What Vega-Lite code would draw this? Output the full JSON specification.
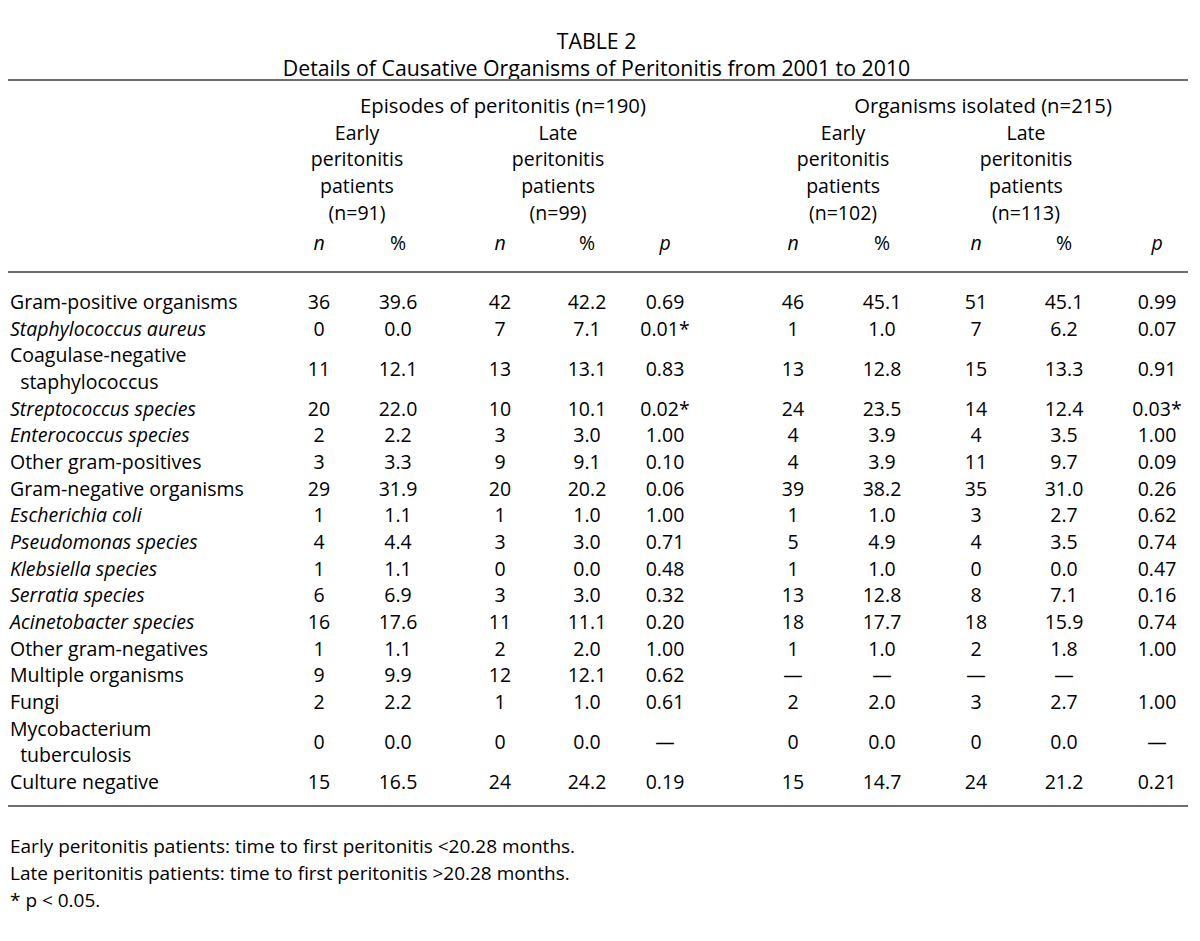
{
  "$schema": "https://vega.github.io/schema/vega-lite/v6.json",
  "width": 1200,
  "height": 941,
  "autosize": {"type": "none"},
  "padding": 0,
  "background": "white",
  "config": {"view": {"stroke": null}, "text": {"font": "Open Sans", "fontSize": 19.5, "color": "#000000"}},
  "datasets": {
    "rows": [
      {"id": "gp", "label": "Gram-positive organisms", "taxon": false, "en": "36", "ep": "39.6", "ln": "42", "lp": "42.2", "p": "0.69", "oen": "46", "oep": "45.1", "oln": "51", "olp": "45.1", "op": "0.99"},
      {"id": "sa", "label": "Staphylococcus aureus", "taxon": true, "en": "0", "ep": "0.0", "ln": "7", "lp": "7.1", "p": "0.01*", "oen": "1", "oep": "1.0", "oln": "7", "olp": "6.2", "op": "0.07"},
      {"id": "cns", "label": "Coagulase-negative\n\u200d\u00a0\u00a0staphylococcus", "taxon": false, "en": "11", "ep": "12.1", "ln": "13", "lp": "13.1", "p": "0.83", "oen": "13", "oep": "12.8", "oln": "15", "olp": "13.3", "op": "0.91"},
      {"id": "strep", "label": "Streptococcus species", "taxon": true, "en": "20", "ep": "22.0", "ln": "10", "lp": "10.1", "p": "0.02*", "oen": "24", "oep": "23.5", "oln": "14", "olp": "12.4", "op": "0.03*"},
      {"id": "ent", "label": "Enterococcus species", "taxon": true, "en": "2", "ep": "2.2", "ln": "3", "lp": "3.0", "p": "1.00", "oen": "4", "oep": "3.9", "oln": "4", "olp": "3.5", "op": "1.00"},
      {"id": "ogp", "label": "Other gram-positives", "taxon": false, "en": "3", "ep": "3.3", "ln": "9", "lp": "9.1", "p": "0.10", "oen": "4", "oep": "3.9", "oln": "11", "olp": "9.7", "op": "0.09"},
      {"id": "gn", "label": "Gram-negative organisms", "taxon": false, "en": "29", "ep": "31.9", "ln": "20", "lp": "20.2", "p": "0.06", "oen": "39", "oep": "38.2", "oln": "35", "olp": "31.0", "op": "0.26"},
      {"id": "ec", "label": "Escherichia coli", "taxon": true, "en": "1", "ep": "1.1", "ln": "1", "lp": "1.0", "p": "1.00", "oen": "1", "oep": "1.0", "oln": "3", "olp": "2.7", "op": "0.62"},
      {"id": "pse", "label": "Pseudomonas species", "taxon": true, "en": "4", "ep": "4.4", "ln": "3", "lp": "3.0", "p": "0.71", "oen": "5", "oep": "4.9", "oln": "4", "olp": "3.5", "op": "0.74"},
      {"id": "kle", "label": "Klebsiella species", "taxon": true, "en": "1", "ep": "1.1", "ln": "0", "lp": "0.0", "p": "0.48", "oen": "1", "oep": "1.0", "oln": "0", "olp": "0.0", "op": "0.47"},
      {"id": "ser", "label": "Serratia species", "taxon": true, "en": "6", "ep": "6.9", "ln": "3", "lp": "3.0", "p": "0.32", "oen": "13", "oep": "12.8", "oln": "8", "olp": "7.1", "op": "0.16"},
      {"id": "aci", "label": "Acinetobacter species", "taxon": true, "en": "16", "ep": "17.6", "ln": "11", "lp": "11.1", "p": "0.20", "oen": "18", "oep": "17.7", "oln": "18", "olp": "15.9", "op": "0.74"},
      {"id": "ogn", "label": "Other gram-negatives", "taxon": false, "en": "1", "ep": "1.1", "ln": "2", "lp": "2.0", "p": "1.00", "oen": "1", "oep": "1.0", "oln": "2", "olp": "1.8", "op": "1.00"},
      {"id": "mul", "label": "Multiple organisms", "taxon": false, "en": "9", "ep": "9.9", "ln": "12", "lp": "12.1", "p": "0.62", "oen": "—", "oep": "—", "oln": "—", "olp": "—", "op": ""},
      {"id": "fun", "label": "Fungi", "taxon": false, "en": "2", "ep": "2.2", "ln": "1", "lp": "1.0", "p": "0.61", "oen": "2", "oep": "2.0", "oln": "3", "olp": "2.7", "op": "1.00"},
      {"id": "myc", "label": "Mycobacterium\n\u200d\u00a0\u00a0tuberculosis", "taxon": false, "en": "0", "ep": "0.0", "ln": "0", "lp": "0.0", "p": "—", "oen": "0", "oep": "0.0", "oln": "0", "olp": "0.0", "op": "—"},
      {"id": "cul", "label": "Culture negative", "taxon": false, "en": "15", "ep": "16.5", "ln": "24", "lp": "24.2", "p": "0.19", "oen": "15", "oep": "14.7", "oln": "24", "olp": "21.2", "op": "0.21"}
    ],
    "units": [
      {"col": 1, "u": "n"}, {"col": 2, "u": "%"}, {"col": 3, "u": "n"}, {"col": 4, "u": "%"}, {"col": 5, "u": "p"},
      {"col": 6, "u": "n"}, {"col": 7, "u": "%"}, {"col": 8, "u": "n"}, {"col": 9, "u": "%"}, {"col": 10, "u": "p"}
    ]
  },
  "data": {"name": "rows"},
  "resolve": {"scale": {"y": "independent"}},
  "layer": [
    {
      "data": {"values": [{"t": "TABLE 2\nDetails of Causative Organisms of Peritonitis from 2001 to 2010"}]},
      "mark": {"type": "text", "align": "center", "baseline": "middle", "lineBreak": "\n", "lineHeight": 27, "fontSize": 21.3},
      "encoding": {
        "text": {"field": "t"},
        "x": {"datum": 4.122, "type": "quantitative", "scale": {"type": "linear", "domain": [-1, 0, 1, 2, 3, 4, 5, 6, 7, 8, 9, 10, 11], "range": [8, 10, 319, 398, 500, 587, 665, 793, 882, 976, 1064, 1157, 1188], "nice": false, "zero": false}, "axis": null},
        "y": {"datum": -9.76, "type": "quantitative", "scale": {"type": "linear", "domain": [0, 18], "range": [303, 783], "nice": false, "zero": false}, "axis": null}
      }
    },
    {
      "data": {"values": [{"r": "top"}]},
      "mark": {"type": "rule", "color": "#6e6e6e", "strokeWidth": 2},
      "encoding": {
        "x": {"datum": -1, "type": "quantitative", "scale": {"type": "linear", "domain": [-1, 0, 1, 2, 3, 4, 5, 6, 7, 8, 9, 10, 11], "range": [8, 10, 319, 398, 500, 587, 665, 793, 882, 976, 1064, 1157, 1188], "nice": false, "zero": false}, "axis": null},
        "x2": {"datum": 11},
        "y": {"datum": -8.3625, "type": "quantitative", "scale": {"type": "linear", "domain": [0, 18], "range": [303, 783], "nice": false, "zero": false}, "axis": null}
      }
    },
    {
      "data": {"values": [{"r": "head"}]},
      "mark": {"type": "rule", "color": "#6e6e6e", "strokeWidth": 2},
      "encoding": {
        "x": {"datum": -1, "type": "quantitative", "scale": {"type": "linear", "domain": [-1, 0, 1, 2, 3, 4, 5, 6, 7, 8, 9, 10, 11], "range": [8, 10, 319, 398, 500, 587, 665, 793, 882, 976, 1064, 1157, 1188], "nice": false, "zero": false}, "axis": null},
        "x2": {"datum": 11},
        "y": {"datum": -1.1625, "type": "quantitative", "scale": {"type": "linear", "domain": [0, 18], "range": [303, 783], "nice": false, "zero": false}, "axis": null}
      }
    },
    {
      "data": {"values": [{"r": "bottom"}]},
      "mark": {"type": "rule", "color": "#6e6e6e", "strokeWidth": 2},
      "encoding": {
        "x": {"datum": -1, "type": "quantitative", "scale": {"type": "linear", "domain": [-1, 0, 1, 2, 3, 4, 5, 6, 7, 8, 9, 10, 11], "range": [8, 10, 319, 398, 500, 587, 665, 793, 882, 976, 1064, 1157, 1188], "nice": false, "zero": false}, "axis": null},
        "x2": {"datum": 11},
        "y": {"datum": 18.8625, "type": "quantitative", "scale": {"type": "linear", "domain": [0, 18], "range": [303, 783], "nice": false, "zero": false}, "axis": null}
      }
    },
    {
      "data": {"values": [{"t": "Episodes of peritonitis (n=190)"}]},
      "mark": {"type": "text", "align": "center", "baseline": "middle", "fontSize": 20.3},
      "encoding": {
        "text": {"field": "t"},
        "x": {"datum": 3.034, "type": "quantitative", "scale": {"type": "linear", "domain": [-1, 0, 1, 2, 3, 4, 5, 6, 7, 8, 9, 10, 11], "range": [8, 10, 319, 398, 500, 587, 665, 793, 882, 976, 1064, 1157, 1188], "nice": false, "zero": false}, "axis": null},
        "y": {"datum": -7.35, "type": "quantitative", "scale": {"type": "linear", "domain": [0, 18], "range": [303, 783], "nice": false, "zero": false}, "axis": null}
      }
    },
    {
      "data": {"values": [{"t": "Organisms isolated (n=215)"}]},
      "mark": {"type": "text", "align": "center", "baseline": "middle", "fontSize": 20.3},
      "encoding": {
        "text": {"field": "t"},
        "x": {"datum": 8.08, "type": "quantitative", "scale": {"type": "linear", "domain": [-1, 0, 1, 2, 3, 4, 5, 6, 7, 8, 9, 10, 11], "range": [8, 10, 319, 398, 500, 587, 665, 793, 882, 976, 1064, 1157, 1188], "nice": false, "zero": false}, "axis": null},
        "y": {"datum": -7.35, "type": "quantitative", "scale": {"type": "linear", "domain": [0, 18], "range": [303, 783], "nice": false, "zero": false}, "axis": null}
      }
    },
    {
      "data": {"values": [{"t": "Early\nperitonitis\npatients\n(n=91)"}]},
      "mark": {"type": "text", "align": "center", "baseline": "middle", "lineBreak": "\n", "lineHeight": 26.8},
      "encoding": {
        "text": {"field": "t"},
        "x": {"datum": 1.481, "type": "quantitative", "scale": {"type": "linear", "domain": [-1, 0, 1, 2, 3, 4, 5, 6, 7, 8, 9, 10, 11], "range": [8, 10, 319, 398, 500, 587, 665, 793, 882, 976, 1064, 1157, 1188], "nice": false, "zero": false}, "axis": null},
        "y": {"datum": -6.356, "type": "quantitative", "scale": {"type": "linear", "domain": [0, 18], "range": [303, 783], "nice": false, "zero": false}, "axis": null}
      }
    },
    {
      "data": {"values": [{"t": "Late\nperitonitis\npatients\n(n=99)"}]},
      "mark": {"type": "text", "align": "center", "baseline": "middle", "lineBreak": "\n", "lineHeight": 26.8},
      "encoding": {
        "text": {"field": "t"},
        "x": {"datum": 3.667, "type": "quantitative", "scale": {"type": "linear", "domain": [-1, 0, 1, 2, 3, 4, 5, 6, 7, 8, 9, 10, 11], "range": [8, 10, 319, 398, 500, 587, 665, 793, 882, 976, 1064, 1157, 1188], "nice": false, "zero": false}, "axis": null},
        "y": {"datum": -6.356, "type": "quantitative", "scale": {"type": "linear", "domain": [0, 18], "range": [303, 783], "nice": false, "zero": false}, "axis": null}
      }
    },
    {
      "data": {"values": [{"t": "Early\nperitonitis\npatients\n(n=102)"}]},
      "mark": {"type": "text", "align": "center", "baseline": "middle", "lineBreak": "\n", "lineHeight": 26.8},
      "encoding": {
        "text": {"field": "t"},
        "x": {"datum": 6.562, "type": "quantitative", "scale": {"type": "linear", "domain": [-1, 0, 1, 2, 3, 4, 5, 6, 7, 8, 9, 10, 11], "range": [8, 10, 319, 398, 500, 587, 665, 793, 882, 976, 1064, 1157, 1188], "nice": false, "zero": false}, "axis": null},
        "y": {"datum": -6.356, "type": "quantitative", "scale": {"type": "linear", "domain": [0, 18], "range": [303, 783], "nice": false, "zero": false}, "axis": null}
      }
    },
    {
      "data": {"values": [{"t": "Late\nperitonitis\npatients\n(n=113)"}]},
      "mark": {"type": "text", "align": "center", "baseline": "middle", "lineBreak": "\n", "lineHeight": 26.8},
      "encoding": {
        "text": {"field": "t"},
        "x": {"datum": 8.568, "type": "quantitative", "scale": {"type": "linear", "domain": [-1, 0, 1, 2, 3, 4, 5, 6, 7, 8, 9, 10, 11], "range": [8, 10, 319, 398, 500, 587, 665, 793, 882, 976, 1064, 1157, 1188], "nice": false, "zero": false}, "axis": null},
        "y": {"datum": -6.356, "type": "quantitative", "scale": {"type": "linear", "domain": [0, 18], "range": [303, 783], "nice": false, "zero": false}, "axis": null}
      }
    },
    {
      "data": {"name": "units"},
      "transform": [{"filter": "datum.u !== '%'"}],
      "mark": {"type": "text", "align": "center", "baseline": "middle", "fontStyle": "italic"},
      "encoding": {
        "text": {"field": "u"},
        "x": {"field": "col", "type": "quantitative", "scale": {"type": "linear", "domain": [-1, 0, 1, 2, 3, 4, 5, 6, 7, 8, 9, 10, 11], "range": [8, 10, 319, 398, 500, 587, 665, 793, 882, 976, 1064, 1157, 1188], "nice": false, "zero": false}, "axis": null},
        "y": {"datum": -2.2125, "type": "quantitative", "scale": {"type": "linear", "domain": [0, 18], "range": [303, 783], "nice": false, "zero": false}, "axis": null}
      }
    },
    {
      "data": {"name": "units"},
      "transform": [{"filter": "datum.u === '%'"}],
      "mark": {"type": "text", "align": "center", "baseline": "middle"},
      "encoding": {
        "text": {"field": "u"},
        "x": {"field": "col", "type": "quantitative", "scale": {"type": "linear", "domain": [-1, 0, 1, 2, 3, 4, 5, 6, 7, 8, 9, 10, 11], "range": [8, 10, 319, 398, 500, 587, 665, 793, 882, 976, 1064, 1157, 1188], "nice": false, "zero": false}, "axis": null},
        "y": {"datum": -2.2125, "type": "quantitative", "scale": {"type": "linear", "domain": [0, 18], "range": [303, 783], "nice": false, "zero": false}, "axis": null}
      }
    },
    {
      "transform": [{"filter": "!datum.taxon && indexof(datum.label, '\\n') < 0"}],
      "mark": {"type": "text", "align": "left", "baseline": "middle"},
      "encoding": {
        "text": {"field": "label"},
        "x": {"datum": 0, "type": "quantitative", "scale": {"type": "linear", "domain": [-1, 0, 1, 2, 3, 4, 5, 6, 7, 8, 9, 10, 11], "range": [8, 10, 319, 398, 500, 587, 665, 793, 882, 976, 1064, 1157, 1188], "nice": false, "zero": false}, "axis": null},
        "y": {"field": "id", "type": "nominal", "scale": {"type": "point", "domain": ["gp", "_a", "sa", "_b", "_c", "cns", "_d", "_e", "strep", "_f", "ent", "_g", "ogp", "_h", "gn", "_i", "ec", "_j", "pse", "_k", "kle", "_l", "ser", "_m", "aci", "_n", "ogn", "_o", "mul", "_p", "fun", "_q", "_r", "myc", "_s", "_t", "cul"], "range": [303, 783], "padding": 0}, "axis": null}
      }
    },
    {
      "transform": [{"filter": "datum.taxon"}],
      "mark": {"type": "text", "align": "left", "baseline": "middle", "fontStyle": "italic"},
      "encoding": {
        "text": {"field": "label"},
        "x": {"datum": 0, "type": "quantitative", "scale": {"type": "linear", "domain": [-1, 0, 1, 2, 3, 4, 5, 6, 7, 8, 9, 10, 11], "range": [8, 10, 319, 398, 500, 587, 665, 793, 882, 976, 1064, 1157, 1188], "nice": false, "zero": false}, "axis": null},
        "y": {"field": "id", "type": "nominal", "scale": {"type": "point", "domain": ["gp", "_a", "sa", "_b", "_c", "cns", "_d", "_e", "strep", "_f", "ent", "_g", "ogp", "_h", "gn", "_i", "ec", "_j", "pse", "_k", "kle", "_l", "ser", "_m", "aci", "_n", "ogn", "_o", "mul", "_p", "fun", "_q", "_r", "myc", "_s", "_t", "cul"], "range": [303, 783], "padding": 0}, "axis": null}
      }
    },
    {
      "transform": [{"filter": "indexof(datum.label, '\\n') >= 0"}],
      "mark": {"type": "text", "align": "left", "baseline": "middle", "lineBreak": "\n", "lineHeight": 26.667, "dy": -13.333},
      "encoding": {
        "text": {"field": "label"},
        "x": {"datum": 0, "type": "quantitative", "scale": {"type": "linear", "domain": [-1, 0, 1, 2, 3, 4, 5, 6, 7, 8, 9, 10, 11], "range": [8, 10, 319, 398, 500, 587, 665, 793, 882, 976, 1064, 1157, 1188], "nice": false, "zero": false}, "axis": null},
        "y": {"field": "id", "type": "nominal", "scale": {"type": "point", "domain": ["gp", "_a", "sa", "_b", "_c", "cns", "_d", "_e", "strep", "_f", "ent", "_g", "ogp", "_h", "gn", "_i", "ec", "_j", "pse", "_k", "kle", "_l", "ser", "_m", "aci", "_n", "ogn", "_o", "mul", "_p", "fun", "_q", "_r", "myc", "_s", "_t", "cul"], "range": [303, 783], "padding": 0}, "axis": null}
      }
    },
    {
      "mark": {"type": "text", "align": "center", "baseline": "middle"},
      "encoding": {
        "text": {"field": "en"},
        "x": {"datum": 1, "type": "quantitative", "scale": {"type": "linear", "domain": [-1, 0, 1, 2, 3, 4, 5, 6, 7, 8, 9, 10, 11], "range": [8, 10, 319, 398, 500, 587, 665, 793, 882, 976, 1064, 1157, 1188], "nice": false, "zero": false}, "axis": null},
        "y": {"field": "id", "type": "nominal", "scale": {"type": "point", "domain": ["gp", "_a", "sa", "_b", "_c", "cns", "_d", "_e", "strep", "_f", "ent", "_g", "ogp", "_h", "gn", "_i", "ec", "_j", "pse", "_k", "kle", "_l", "ser", "_m", "aci", "_n", "ogn", "_o", "mul", "_p", "fun", "_q", "_r", "myc", "_s", "_t", "cul"], "range": [303, 783], "padding": 0}, "axis": null}
      }
    },
    {
      "mark": {"type": "text", "align": "center", "baseline": "middle"},
      "encoding": {
        "text": {"field": "ep"},
        "x": {"datum": 2, "type": "quantitative", "scale": {"type": "linear", "domain": [-1, 0, 1, 2, 3, 4, 5, 6, 7, 8, 9, 10, 11], "range": [8, 10, 319, 398, 500, 587, 665, 793, 882, 976, 1064, 1157, 1188], "nice": false, "zero": false}, "axis": null},
        "y": {"field": "id", "type": "nominal", "scale": {"type": "point", "domain": ["gp", "_a", "sa", "_b", "_c", "cns", "_d", "_e", "strep", "_f", "ent", "_g", "ogp", "_h", "gn", "_i", "ec", "_j", "pse", "_k", "kle", "_l", "ser", "_m", "aci", "_n", "ogn", "_o", "mul", "_p", "fun", "_q", "_r", "myc", "_s", "_t", "cul"], "range": [303, 783], "padding": 0}, "axis": null}
      }
    },
    {
      "mark": {"type": "text", "align": "center", "baseline": "middle"},
      "encoding": {
        "text": {"field": "ln"},
        "x": {"datum": 3, "type": "quantitative", "scale": {"type": "linear", "domain": [-1, 0, 1, 2, 3, 4, 5, 6, 7, 8, 9, 10, 11], "range": [8, 10, 319, 398, 500, 587, 665, 793, 882, 976, 1064, 1157, 1188], "nice": false, "zero": false}, "axis": null},
        "y": {"field": "id", "type": "nominal", "scale": {"type": "point", "domain": ["gp", "_a", "sa", "_b", "_c", "cns", "_d", "_e", "strep", "_f", "ent", "_g", "ogp", "_h", "gn", "_i", "ec", "_j", "pse", "_k", "kle", "_l", "ser", "_m", "aci", "_n", "ogn", "_o", "mul", "_p", "fun", "_q", "_r", "myc", "_s", "_t", "cul"], "range": [303, 783], "padding": 0}, "axis": null}
      }
    },
    {
      "mark": {"type": "text", "align": "center", "baseline": "middle"},
      "encoding": {
        "text": {"field": "lp"},
        "x": {"datum": 4, "type": "quantitative", "scale": {"type": "linear", "domain": [-1, 0, 1, 2, 3, 4, 5, 6, 7, 8, 9, 10, 11], "range": [8, 10, 319, 398, 500, 587, 665, 793, 882, 976, 1064, 1157, 1188], "nice": false, "zero": false}, "axis": null},
        "y": {"field": "id", "type": "nominal", "scale": {"type": "point", "domain": ["gp", "_a", "sa", "_b", "_c", "cns", "_d", "_e", "strep", "_f", "ent", "_g", "ogp", "_h", "gn", "_i", "ec", "_j", "pse", "_k", "kle", "_l", "ser", "_m", "aci", "_n", "ogn", "_o", "mul", "_p", "fun", "_q", "_r", "myc", "_s", "_t", "cul"], "range": [303, 783], "padding": 0}, "axis": null}
      }
    },
    {
      "mark": {"type": "text", "align": "center", "baseline": "middle"},
      "encoding": {
        "text": {"field": "p"},
        "x": {"datum": 5, "type": "quantitative", "scale": {"type": "linear", "domain": [-1, 0, 1, 2, 3, 4, 5, 6, 7, 8, 9, 10, 11], "range": [8, 10, 319, 398, 500, 587, 665, 793, 882, 976, 1064, 1157, 1188], "nice": false, "zero": false}, "axis": null},
        "y": {"field": "id", "type": "nominal", "scale": {"type": "point", "domain": ["gp", "_a", "sa", "_b", "_c", "cns", "_d", "_e", "strep", "_f", "ent", "_g", "ogp", "_h", "gn", "_i", "ec", "_j", "pse", "_k", "kle", "_l", "ser", "_m", "aci", "_n", "ogn", "_o", "mul", "_p", "fun", "_q", "_r", "myc", "_s", "_t", "cul"], "range": [303, 783], "padding": 0}, "axis": null}
      }
    },
    {
      "mark": {"type": "text", "align": "center", "baseline": "middle"},
      "encoding": {
        "text": {"field": "oen"},
        "x": {"datum": 6, "type": "quantitative", "scale": {"type": "linear", "domain": [-1, 0, 1, 2, 3, 4, 5, 6, 7, 8, 9, 10, 11], "range": [8, 10, 319, 398, 500, 587, 665, 793, 882, 976, 1064, 1157, 1188], "nice": false, "zero": false}, "axis": null},
        "y": {"field": "id", "type": "nominal", "scale": {"type": "point", "domain": ["gp", "_a", "sa", "_b", "_c", "cns", "_d", "_e", "strep", "_f", "ent", "_g", "ogp", "_h", "gn", "_i", "ec", "_j", "pse", "_k", "kle", "_l", "ser", "_m", "aci", "_n", "ogn", "_o", "mul", "_p", "fun", "_q", "_r", "myc", "_s", "_t", "cul"], "range": [303, 783], "padding": 0}, "axis": null}
      }
    },
    {
      "mark": {"type": "text", "align": "center", "baseline": "middle"},
      "encoding": {
        "text": {"field": "oep"},
        "x": {"datum": 7, "type": "quantitative", "scale": {"type": "linear", "domain": [-1, 0, 1, 2, 3, 4, 5, 6, 7, 8, 9, 10, 11], "range": [8, 10, 319, 398, 500, 587, 665, 793, 882, 976, 1064, 1157, 1188], "nice": false, "zero": false}, "axis": null},
        "y": {"field": "id", "type": "nominal", "scale": {"type": "point", "domain": ["gp", "_a", "sa", "_b", "_c", "cns", "_d", "_e", "strep", "_f", "ent", "_g", "ogp", "_h", "gn", "_i", "ec", "_j", "pse", "_k", "kle", "_l", "ser", "_m", "aci", "_n", "ogn", "_o", "mul", "_p", "fun", "_q", "_r", "myc", "_s", "_t", "cul"], "range": [303, 783], "padding": 0}, "axis": null}
      }
    },
    {
      "mark": {"type": "text", "align": "center", "baseline": "middle"},
      "encoding": {
        "text": {"field": "oln"},
        "x": {"datum": 8, "type": "quantitative", "scale": {"type": "linear", "domain": [-1, 0, 1, 2, 3, 4, 5, 6, 7, 8, 9, 10, 11], "range": [8, 10, 319, 398, 500, 587, 665, 793, 882, 976, 1064, 1157, 1188], "nice": false, "zero": false}, "axis": null},
        "y": {"field": "id", "type": "nominal", "scale": {"type": "point", "domain": ["gp", "_a", "sa", "_b", "_c", "cns", "_d", "_e", "strep", "_f", "ent", "_g", "ogp", "_h", "gn", "_i", "ec", "_j", "pse", "_k", "kle", "_l", "ser", "_m", "aci", "_n", "ogn", "_o", "mul", "_p", "fun", "_q", "_r", "myc", "_s", "_t", "cul"], "range": [303, 783], "padding": 0}, "axis": null}
      }
    },
    {
      "mark": {"type": "text", "align": "center", "baseline": "middle"},
      "encoding": {
        "text": {"field": "olp"},
        "x": {"datum": 9, "type": "quantitative", "scale": {"type": "linear", "domain": [-1, 0, 1, 2, 3, 4, 5, 6, 7, 8, 9, 10, 11], "range": [8, 10, 319, 398, 500, 587, 665, 793, 882, 976, 1064, 1157, 1188], "nice": false, "zero": false}, "axis": null},
        "y": {"field": "id", "type": "nominal", "scale": {"type": "point", "domain": ["gp", "_a", "sa", "_b", "_c", "cns", "_d", "_e", "strep", "_f", "ent", "_g", "ogp", "_h", "gn", "_i", "ec", "_j", "pse", "_k", "kle", "_l", "ser", "_m", "aci", "_n", "ogn", "_o", "mul", "_p", "fun", "_q", "_r", "myc", "_s", "_t", "cul"], "range": [303, 783], "padding": 0}, "axis": null}
      }
    },
    {
      "mark": {"type": "text", "align": "center", "baseline": "middle"},
      "encoding": {
        "text": {"field": "op"},
        "x": {"datum": 10, "type": "quantitative", "scale": {"type": "linear", "domain": [-1, 0, 1, 2, 3, 4, 5, 6, 7, 8, 9, 10, 11], "range": [8, 10, 319, 398, 500, 587, 665, 793, 882, 976, 1064, 1157, 1188], "nice": false, "zero": false}, "axis": null},
        "y": {"field": "id", "type": "nominal", "scale": {"type": "point", "domain": ["gp", "_a", "sa", "_b", "_c", "cns", "_d", "_e", "strep", "_f", "ent", "_g", "ogp", "_h", "gn", "_i", "ec", "_j", "pse", "_k", "kle", "_l", "ser", "_m", "aci", "_n", "ogn", "_o", "mul", "_p", "fun", "_q", "_r", "myc", "_s", "_t", "cul"], "range": [303, 783], "padding": 0}, "axis": null}
      }
    },
    {
      "data": {"values": [{"t": "Early peritonitis patients: time to first peritonitis <20.28 months.\nLate peritonitis patients: time to first peritonitis >20.28 months.\n* p < 0.05."}]},
      "mark": {"type": "text", "align": "left", "baseline": "middle", "lineBreak": "\n", "lineHeight": 27, "fontSize": 19},
      "encoding": {
        "text": {"field": "t"},
        "x": {"datum": 0, "type": "quantitative", "scale": {"type": "linear", "domain": [-1, 0, 1, 2, 3, 4, 5, 6, 7, 8, 9, 10, 11], "range": [8, 10, 319, 398, 500, 587, 665, 793, 882, 976, 1064, 1157, 1188], "nice": false, "zero": false}, "axis": null},
        "y": {"datum": 20.4, "type": "quantitative", "scale": {"type": "linear", "domain": [0, 18], "range": [303, 783], "nice": false, "zero": false}, "axis": null}
      }
    }
  ]
}
